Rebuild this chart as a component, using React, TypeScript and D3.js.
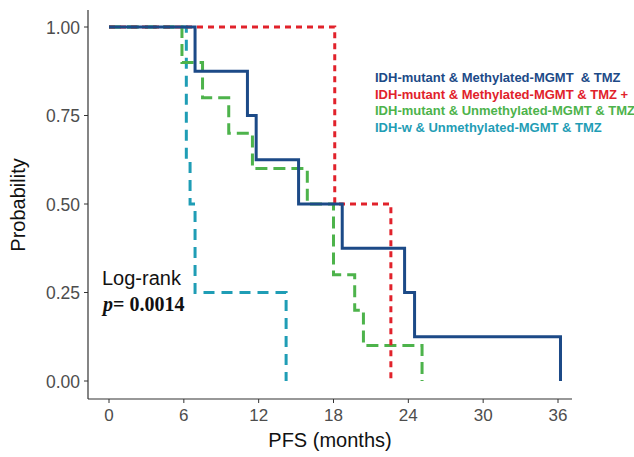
import React, { useEffect, useRef } from 'react';
import * as d3 from 'd3';

// survival steps: time (months) and survival probability after each drop
const blueT = [0, 6.9, 11.1, 11.8, 15.2, 18.7, 23.7, 24.5, 36.2];
const blueS = [1, 0.875, 0.75, 0.625, 0.5, 0.375, 0.25, 0.125, 0];
const redT = [0, 18.1, 22.6];
const redS = [1, 0.5, 0];
const greenT = [0, 5.85, 7.5, 9.6, 11.5, 15.9, 18.0, 19.7, 20.4, 25.1];
const greenS = [1, 0.9, 0.8, 0.7, 0.6, 0.5, 0.3, 0.2, 0.1, 0];
const tealT = [0, 6.2, 6.5, 6.9, 14.2];
const tealS = [1, 0.625, 0.5, 0.25, 0];

const xTicks = [0, 6, 12, 18, 24, 30, 36];
const yTicks = [0, 0.25, 0.5, 0.75, 1];

const legendLabels = [
  'IDH-mutant & Methylated-MGMT  & TMZ',
  'IDH-mutant & Methylated-MGMT & TMZ +',
  'IDH-mutant & Unmethylated-MGMT & TMZ',
  'IDH-w & Unmethylated-MGMT & TMZ',
];

const App = () => {
  const ref = useRef<SVGSVGElement>(null);

  useEffect(() => {
    const svg = d3.select(ref.current);
    svg.selectAll('*').remove();

    const x = d3.scaleLinear().domain([0, 36]).range([109, 558]);
    const y = d3.scaleLinear().domain([0, 1]).range([381, 27]);
    const sans = 'Liberation Sans, Arial, sans-serif';

    const series = [
      { t: tealT, s: tealS, color: '#1f9db5', dash: '11,7' },
      { t: greenT, s: greenS, color: '#4db34b', dash: '12,6' },
      { t: redT, s: redS, color: '#e1222b', dash: '6,5' },
      { t: blueT, s: blueS, color: '#1c4a87', dash: null },
    ];

    const line = d3.line<[number, number]>()
      .x(d => x(d[0]))
      .y(d => y(d[1]))
      .curve(d3.curveStepAfter);

    series.forEach(ser => {
      const pts: [number, number][] = ser.t.map((t, i) => [t, ser.s[i]]);
      const p = svg.append('path')
        .attr('d', line(pts))
        .attr('fill', 'none')
        .attr('stroke', ser.color)
        .attr('stroke-width', 3);
      if (ser.dash) p.attr('stroke-dasharray', ser.dash);
    });

    // axes
    const axisColor = '#333';
    svg.append('line').attr('x1', 88).attr('x2', 88).attr('y1', 10).attr('y2', 399)
      .attr('stroke', axisColor).attr('stroke-width', 1.2);
    svg.append('line').attr('x1', 88).attr('x2', 572).attr('y1', 399).attr('y2', 399)
      .attr('stroke', axisColor).attr('stroke-width', 1.2);

    xTicks.forEach(t => {
      svg.append('line').attr('x1', x(t)).attr('x2', x(t)).attr('y1', 399).attr('y2', 403)
        .attr('stroke', axisColor);
      svg.append('text').attr('x', x(t)).attr('y', 421)
        .attr('text-anchor', 'middle').attr('font-size', 17).attr('fill', '#4d4d4d')
        .attr('font-family', sans).text(t);
    });
    yTicks.forEach(t => {
      svg.append('line').attr('x1', 84).attr('x2', 88).attr('y1', y(t)).attr('y2', y(t))
        .attr('stroke', axisColor);
      svg.append('text').attr('x', 80).attr('y', y(t) + 6.5)
        .attr('text-anchor', 'end').attr('font-size', 17.5).attr('fill', '#4d4d4d')
        .attr('font-family', sans).text(d3.format('.2f')(t));
    });

    svg.append('text').attr('x', 330).attr('y', 447).attr('text-anchor', 'middle')
      .attr('font-size', 20).attr('fill', '#111')
      .attr('font-family', sans).text('PFS (months)');
    svg.append('text').attr('transform', 'translate(25,205) rotate(-90)')
      .attr('text-anchor', 'middle').attr('font-size', 20).attr('fill', '#111')
      .attr('font-family', sans).text('Probability');

    // legend
    const legendColors = ['#1c4a87', '#e1222b', '#4db34b', '#1f9db5'];
    legendLabels.forEach((l, i) => {
      svg.append('text').attr('x', 375).attr('y', 82 + i * 16.5)
        .attr('font-size', 13).attr('font-weight', 'bold').attr('fill', legendColors[i])
        .attr('font-family', sans)
        .style('white-space', 'pre').text(l);
    });

    // log-rank annotation
    svg.append('text').attr('x', 102).attr('y', 285).attr('font-size', 20).attr('fill', '#111')
      .attr('font-family', sans).text('Log-rank');
    const pt = svg.append('text').attr('x', 103).attr('y', 311).attr('font-size', 20)
      .attr('font-weight', 'bold').attr('fill', '#111')
      .attr('font-family', 'Liberation Serif, Times New Roman, serif');
    pt.append('tspan').attr('font-style', 'italic').text('p');
    pt.append('tspan').text('= 0.0014');
  }, []);

  return (
    <svg ref={ref} width={634} height={457}
      style={{ position: 'absolute', left: 0, top: 0, background: '#fff' }} />
  );
};

export default App;
